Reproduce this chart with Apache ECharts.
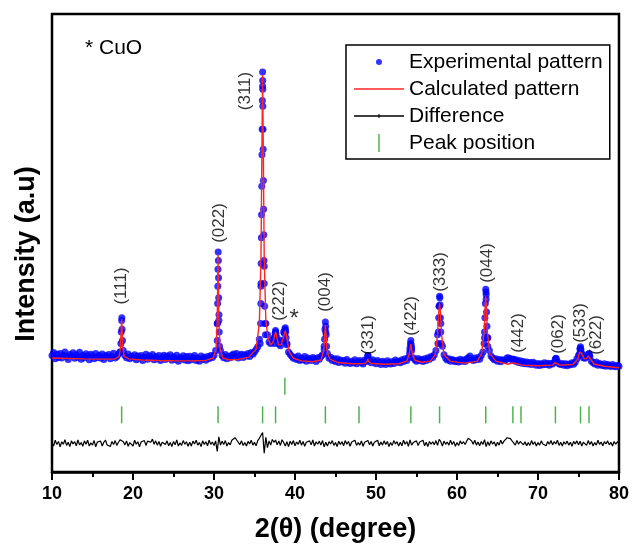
<!DOCTYPE html>
<html>
<head>
<meta charset="utf-8">
<script src="https://cdn.jsdelivr.net/npm/echarts@6/dist/echarts.min.js"></script>
<style>
  html, body { margin: 0; padding: 0; background: #fff; }
  #chart { width: 632px; height: 552px; }
</style>
</head>
<body>
<div id="chart"></div>
<script>
// scan grid used by the experimental dots and the difference curve
const scanStart = 10;
const scanStep = 0.2;

// experimental intensity, one row per degree (x.0, x.2, x.4, x.6, x.8)
const expScan = [
  1080, 1180, 960, 1120, 1010,   1150, 990, 1090, 1200, 1030,   940, 1110, 1060, 1170, 980,
  1100, 1020, 1190, 950, 1080,   1000, 1140, 1060, 930, 1120,   1070, 960, 1150, 1010, 1090,
  990, 1130, 940, 1080, 1030,    1110, 960, 1050, 1160, 990,    1040, 1120, 1200, 2300, 1250,
  1080, 1000, 1130, 960, 1050,   1010, 1100, 930, 1060, 980,    1080, 900, 1020, 1120, 950,
  1060, 990, 1110, 930, 1040,    960, 1080, 900, 1020, 1090,    940, 1060, 990, 1100, 910,
  1030, 950, 1090, 880, 1010,    960, 1070, 920, 1040, 890,     1050, 930, 1000, 1080, 900,
  990, 880, 1060, 950, 1020,     910, 1040, 970, 1080, 1010,    1090, 1250, 2200, 2300, 1250,
  1080, 1000, 1110, 960, 1050,   1000, 1090, 1130, 1040, 1150,  990, 1070, 1120, 1010, 1100,
  1060, 1150, 1040, 1180, 1120,  1200, 1290, 1380, 1650, 3500,  10500, 4200, 2200, 1800, 1550,
  1500, 1620, 1700, 1900, 1700,  1480, 1420, 1600, 1900, 1950,  1500, 1200, 1120, 1050, 980,
  1020, 940, 1060, 900, 980,     930, 1040, 880, 990, 950,      900, 1010, 960, 870, 1000,
  950, 1040, 1100, 1400, 1900,   1150, 980, 1020, 900, 960,     870, 960, 830, 920, 860,
  900, 810, 940, 850, 800,       880, 820, 930, 790, 860,       900, 830, 780, 920, 870,
  1080, 900, 820, 930, 850,      790, 900, 840, 760, 880,       820, 760, 890, 830, 780,
  870, 800, 920, 840, 880,       820, 930, 870, 960, 900,       1000, 1250, 1350, 1000, 930,
  880, 970, 900, 940, 870,       960, 900, 1000, 950, 1040,     1010, 1100, 1250, 1800, 2800,
  2200, 1400, 1100, 980, 920,    960, 880, 940, 900, 860,       910, 850, 950, 880, 920,
  870, 960, 1000, 1060, 940,     900, 990, 930, 1010, 950,      1080, 1200, 1700, 3200, 1700,
  1250, 1060, 990, 930, 960,     880, 940, 860, 930, 900,       920, 1000, 990, 960, 930,
  950, 880, 920, 830, 890,       810, 870, 790, 850, 780,       830, 760, 840, 790, 740,
  800, 730, 790, 750, 820,       760, 810, 740, 800, 780,       850, 950, 870, 790, 760,
  800, 740, 790, 720, 780,       750, 820, 770, 840, 960,       1080, 1330, 1150, 1000, 980,
  1030, 1120, 1050, 880, 830,    780, 850, 740, 800, 760,       720, 790, 700, 760, 730,
  690, 760, 710, 680, 740,       700
];

// extra experimental dots on the steep peak flanks [2theta, intensity]
const expPeakDots = [
  [18.45, 1200], [18.5, 1500], [18.55, 1900], [18.62, 2400], [18.65, 2000], [18.7, 1600],
  [30.4, 1600], [30.42, 2200], [30.45, 2900], [30.47, 3500], [30.49, 4100], [30.52, 4700], [30.54, 4400],
  [30.56, 3800], [30.58, 3100], [30.61, 2500], [30.64, 1900], [30.68, 1400],
  [35.7, 1500], [35.75, 2200], [35.78, 2900], [35.8, 3600], [35.82, 4300], [35.85, 5200], [35.87, 6000],
  [35.9, 7000], [35.92, 8100], [35.95, 9000], [35.97, 10000], [36.0, 11000], [36.01, 10700], [36.02, 10400],
  [36.03, 9800], [36.05, 9000], [36.07, 8300], [36.1, 7200], [36.12, 6200], [36.15, 5300], [36.17, 4400],
  [36.2, 3600], [36.25, 2800], [36.3, 2200], [36.35, 1800],
  [37.45, 1500], [37.5, 1700], [37.55, 1850], [37.6, 1950], [37.65, 1850], [37.7, 1650],
  [38.6, 1600], [38.7, 1850], [38.75, 2000], [38.8, 2050], [38.85, 1900], [38.9, 1700], [39.0, 1450],
  [43.6, 1300], [43.65, 1650], [43.7, 2000], [43.75, 2250], [43.8, 2100], [43.85, 1800], [43.9, 1400],
  [48.9, 950], [49.0, 1080], [49.1, 950],
  [54.15, 1150], [54.2, 1350], [54.25, 1500], [54.3, 1600], [54.35, 1450], [54.4, 1250],
  [57.65, 1500], [57.7, 1900], [57.75, 2400], [57.8, 2800], [57.85, 3150], [57.88, 3100], [57.9, 2850],
  [57.95, 2400], [58.0, 1900], [58.05, 1500],
  [63.35, 1500], [63.4, 1900], [63.45, 2400], [63.5, 2900], [63.55, 3400], [63.58, 3300], [63.6, 3050],
  [63.65, 2600], [63.7, 2100], [63.75, 1700], [63.8, 1400],
  [66.95, 950], [67.05, 900], [72.15, 960], [72.25, 980],
  [75.15, 1150], [75.2, 1300], [75.25, 1380], [75.3, 1300], [75.35, 1150],
  [76.25, 1100], [76.3, 1150], [76.35, 1080]
];

// calculated (refined) pattern [2theta, intensity]
const calcPattern = [
  [10, 990], [12, 975], [14, 960], [16, 950], [17.8, 955], [18.3, 1050], [18.45, 1350], [18.55, 2000],
  [18.6, 2350], [18.65, 2000], [18.75, 1350], [18.9, 1050], [19.5, 960], [21, 920], [23, 905], [25, 895],
  [27, 890], [29, 905], [29.9, 990], [30.25, 1300], [30.4, 2300], [30.5, 4600], [30.6, 2300], [30.75, 1300],
  [31.1, 990], [31.8, 930], [33, 940], [34.3, 1020], [35.2, 1300], [35.6, 2200], [35.8, 4500], [35.9, 7800],
  [36.0, 10900], [36.1, 7800], [36.2, 4500], [36.4, 2300], [36.7, 1650], [37.0, 1450], [37.3, 1550],
  [37.5, 1800], [37.6, 1900], [37.7, 1800], [37.95, 1450], [38.3, 1450], [38.6, 1750], [38.8, 1950],
  [38.95, 1750], [39.3, 1200], [39.8, 980], [40.8, 890], [42.2, 860], [43.2, 920], [43.55, 1250],
  [43.68, 1850], [43.75, 2150], [43.82, 1850], [43.95, 1250], [44.3, 950], [45.3, 830], [47, 790],
  [48.6, 800], [48.9, 870], [49.0, 960], [49.1, 870], [49.4, 800], [51, 770], [52.8, 790], [53.8, 880],
  [54.12, 1150], [54.3, 1480], [54.48, 1150], [54.8, 910], [55.6, 840], [56.7, 880], [57.3, 1100],
  [57.6, 1800], [57.75, 2600], [57.85, 2900], [57.95, 2600], [58.1, 1800], [58.4, 1100], [59.2, 870],
  [61, 810], [62.5, 870], [63.05, 1150], [63.35, 1900], [63.48, 2800], [63.55, 3150], [63.62, 2800],
  [63.75, 1900], [64.05, 1150], [64.8, 880], [66.3, 770], [66.85, 820], [67.0, 850], [67.15, 810],
  [68, 740], [70, 720], [71.8, 740], [72.1, 830], [72.2, 900], [72.3, 830], [72.7, 740], [74.3, 760],
  [74.9, 950], [75.15, 1200], [75.25, 1270], [75.4, 1150], [75.7, 960], [76.0, 970], [76.2, 1060],
  [76.3, 1090], [76.45, 970], [76.9, 780], [78.2, 700], [80, 650]
];

// difference (obs - calc), same grid as expScan
const diffScan = [
  0, -90, 110, -40, 70,     -120, 60, -30, 130, -70,   40, -110, 90, -20, 60,
  -80, 120, -50, 30, -100,  90, -30, 110, -90, 20,     -60, 100, -120, 50, -10,
  80, -90, 40, 120, -50,    10, -110, 70, -40, 100,    -70, 40, 130, 180, 60,
  -50, 90, -100, 30, 70,    -90, 110, -30, 60, -120,   50, -20, 100, -70, 80,
  120, 40, 150, -30, 90,    -60, 70, -100, 40, 110,    -40, 90, -80, 30, -110,
  70, -50, 120, -90, 20,    -70, 100, -30, 60, -100,   40, -90, 80, -20, 110,
  -60, 30, -110, 90, -40,   60, -80, 110, -30, 50,      -70, 90, -280, 230, -60,
  80, -40, 100, -90, 30,    -50, 110, 160, 200, 120,   60, -40, 90, -70, 30,
  -90, 70, -20, 110, -60,   40, -80, 100, 180, 150,    380, -340, 210, -150, 90,
  -60, 140, 40, 120, -50,   90, -70, 130, 30, -90,      60, -110, 80, -40, 100,
  -80, 50, -30, 110, -60,   70, -100, 40, -20, 90,     -50, 120, -90, 60, -30,
  80, -60, 100, -120, 40,   -90, 60, -20, 100, -70,    30, -110, 80, -40, 60,
  -80, 100, -30, 70, -100,  50, -20, 110, -70, 30,     -60, 90, -100, 40, -30,
  100, -50, 70, -90, 40,    -20, 110, -80, 50, -60,    90, -40, 70, -110, 30,
  -70, 100, -20, 60, -90,   40, -80, 110, -30, 70,     -100, 120, -60, 30, -40,
  90, -70, 50, -20, 110,    -80, 40, -110, 70, -30,    60, -50, 100, -70, 140,
  60, -90, 80, -30, 50,     -60, 110, -40, 70, -100,   30, -70, 90, -20, 60,
  -40, 80, 180, 220, 90,    -30, 110, -60, 50, -80,    70, -40, 130, -110, 60,
  -70, 90, -30, 60, -100,   40, -60, 110, -20, 80,     120, 200, 240, 170, 90,
  50, -60, 100, -30, 70,    120, -50, 60, -80, 30,     -70, 100, -40, 60, -90,
  30, -60, 90, -20, 50,     -80, 70, -30, 100, -50,    60, -20, 110, -70, 40,
  -90, 60, -30, 80, -60,    40, -100, 70, -20, 90,     -50, 80, -90, 40, 60,
  -70, 100, -40, 70, -90,   30, -60, 110, -30, 50,     -80, 60, -20, 90, -50,
  40, -90, 70, -30, 60,     0
];
const diffOffset = -2000;

// Bragg positions: spinel phase row and CuO row
const phasePeaks = [18.6, 30.5, 36.0, 37.6, 43.75, 47.9, 54.3, 57.85, 63.55, 66.9, 67.9, 72.15, 75.25, 76.3];
const cuoPeaks = [38.75];
const phaseRow = -1000;
const cuoRow = 0;

// reflection labels
const hklText = ['(111)', '(022)', '(311)', '(222)', '(004)', '(331)', '(422)', '(333)', '(044)', '(442)', '(062)', '(533)', '(622)'];
const hklX = [18.6, 30.7, 33.9, 38.1, 43.8, 49.1, 54.4, 58.0, 63.7, 67.6, 72.5, 75.2, 77.2];
const hklY = [3510, 5715, 10335, 2985, 3300, 1795, 2460, 4000, 4315, 1865, 1830, 2215, 1795];

const xTicks = [10, 20, 30, 40, 50, 60, 70, 80];

const font = '"Liberation Sans", Arial, Helvetica, sans-serif';

const expData = expScan.map((v, i) => [scanStart + i * scanStep, v]).concat(expPeakDots);
const diffData = diffScan.map((v, i) => [scanStart + i * scanStep, v + diffOffset]);
const tickData = phasePeaks.map(x => [x, phaseRow]).concat(cuoPeaks.map(x => [x, cuoRow]));
const labelData = hklText.map((t, i) => ({ name: t, value: [hklX[i], hklY[i]] }));
labelData.push({
  name: '*', value: [39.9, 2355],
  label: { rotate: 0, fontSize: 24 }
});

const chart = echarts.init(document.getElementById('chart'));
chart.setOption({
  animation: false,
  backgroundColor: '#fff',
  grid: {
    left: 52, right: 12, top: 14, bottom: 80,
    show: true, borderColor: '#000', borderWidth: 2.5
  },
  graphic: [{
    type: 'text', x: 85, y: 48,
    style: { text: '* CuO', font: '21px ' + font, fill: '#000', verticalAlign: 'middle' }
  }],
  legend: {
    orient: 'vertical',
    left: 346, top: 45,
    padding: [6, 7, 5, 8],
    borderColor: '#000', borderWidth: 1.5,
    itemWidth: 50, itemHeight: 20, itemGap: 5,
    selectedMode: false,
    textStyle: { fontFamily: font, fontSize: 21, color: '#000', lineHeight: 22 },
    data: [
      { name: 'Experimental pattern', icon: 'path://M0,0M50,20M22,10a3,3 0 1,0 6,0a3,3 0 1,0 -6,0' },
      { name: 'Calculated pattern', icon: 'path://M0,0M50,20M0,9.3L50,9.3L50,10.7L0,10.7Z' },
      { name: 'Difference', icon: 'path://M0,0M50,20M0,9.3L50,9.3L50,10.7L0,10.7ZM24.5,8L25.5,8L25.5,12L24.5,12Z' },
      { name: 'Peak position', icon: 'path://M0,0M50,20M24.25,1L25.75,1L25.75,19L24.25,19Z' }
    ]
  },
  xAxis: {
    type: 'value',
    min: xTicks[0], max: xTicks[xTicks.length - 1], interval: xTicks[1] - xTicks[0],
    axisLine: { show: true, onZero: false, lineStyle: { color: '#000', width: 2.5 } },
    axisTick: { show: true, inside: false, length: 8, lineStyle: { color: '#000', width: 2 } },
    minorTick: { show: true, splitNumber: 2, length: 5, lineStyle: { color: '#000', width: 2 } },
    splitLine: { show: false },
    axisLabel: { color: '#000', fontSize: 18, fontWeight: 'bold', fontFamily: font, margin: 13 },
    name: '2(\u03b8) (degree)',
    nameLocation: 'middle', nameGap: 44,
    nameTextStyle: { color: '#000', fontSize: 27, fontWeight: 'bold', fontFamily: font }
  },
  yAxis: {
    type: 'value', min: -3000, max: 13030,
    axisLine: { show: false }, axisTick: { show: false },
    axisLabel: { show: false }, splitLine: { show: false },
    name: 'Intensity (a.u)',
    nameLocation: 'middle', nameGap: 12, nameRotate: 90,
    nameTextStyle: { color: '#000', fontSize: 27, fontWeight: 'bold', fontFamily: font, padding: [0, 22, 0, 0] }
  },
  series: [
    {
      name: 'Experimental pattern', type: 'scatter',
      symbol: 'circle', symbolSize: 7,
      itemStyle: { color: '#0000ff' },
      data: expData, z: 2, silent: true
    },
    {
      name: 'Calculated pattern', type: 'line',
      symbol: 'none', smooth: false,
      lineStyle: { color: '#ff2424', width: 1.4 },
      itemStyle: { color: '#ff2424' },
      data: calcPattern, z: 3, silent: true
    },
    {
      name: 'Difference', type: 'line',
      symbol: 'none',
      lineStyle: { color: '#000', width: 1.2 },
      itemStyle: { color: '#000' },
      data: diffData, z: 3, silent: true
    },
    {
      name: 'Peak position', type: 'scatter',
      symbol: 'rect', symbolSize: [1.5, 17],
      itemStyle: { color: '#23a023' },
      data: tickData, z: 3, silent: true
    },
    {
      name: 'hkl', type: 'scatter',
      symbolSize: 1, itemStyle: { color: 'transparent' },
      silent: true, z: 4,
      label: {
        show: true, position: 'inside', rotate: 90,
        formatter: '{b}', color: '#000', fontSize: 17, fontFamily: font
      },
      data: labelData
    }
  ]
});
</script>
</body>
</html>
